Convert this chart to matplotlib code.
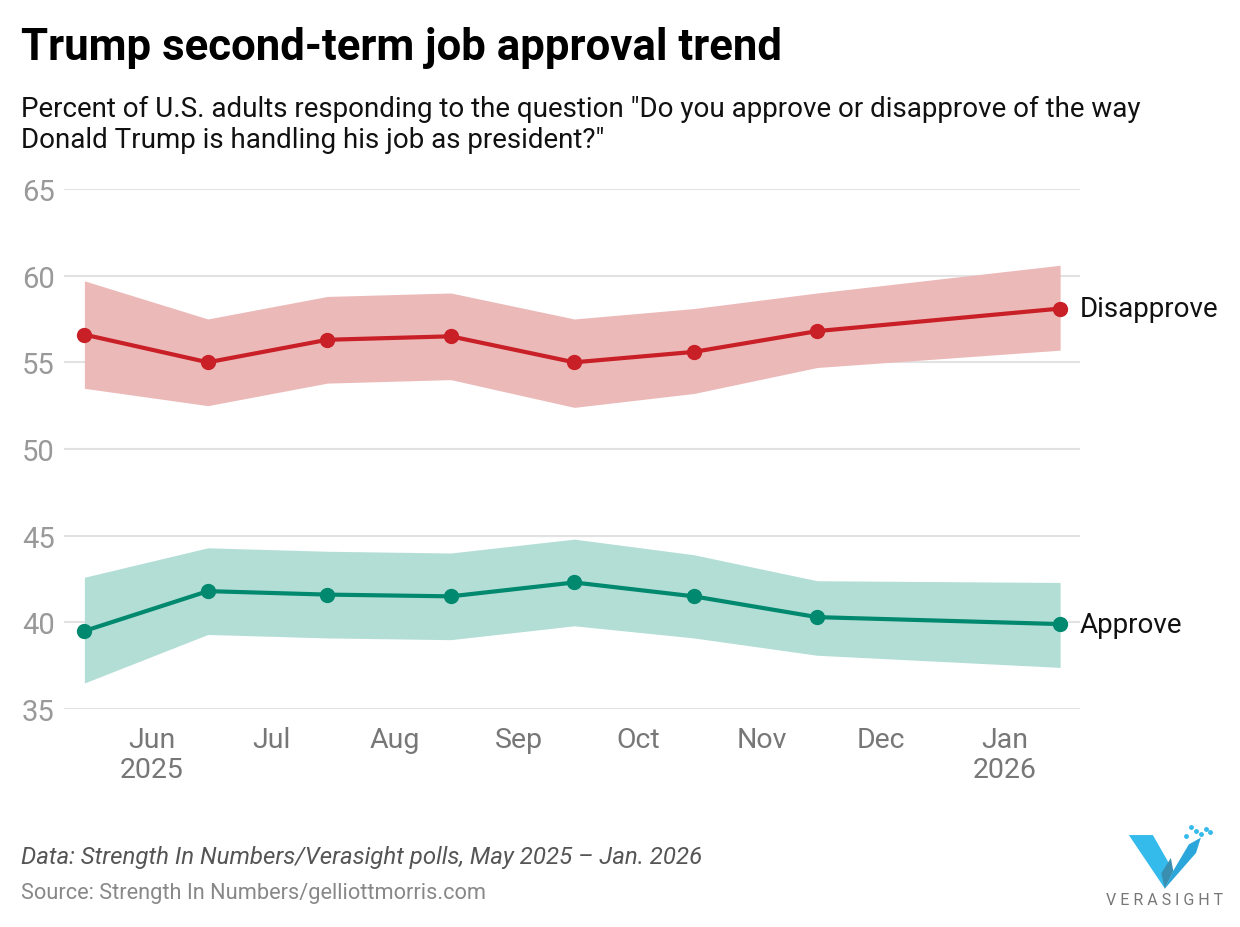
import numpy as np
import matplotlib.pyplot as plt
from matplotlib.patches import Polygon
import datetime as dt

plt.rcParams['font.family'] = ['Roboto', 'DejaVu Sans']

# poll dates (mid-month fieldwork)
dates = ["2025-05-15", "2025-06-15", "2025-07-15", "2025-08-15",
         "2025-09-15", "2025-10-15", "2025-11-15", "2026-01-15"]
disapprove = [56.6, 55.0, 56.3, 56.5, 55.0, 55.6, 56.8, 58.1]
dis_hi = [59.7, 57.5, 58.8, 59.0, 57.5, 58.1, 59.0, 60.6]
dis_lo = [53.5, 52.5, 53.8, 54.0, 52.4, 53.2, 54.7, 55.7]
approve = [39.5, 41.8, 41.6, 41.5, 42.3, 41.5, 40.3, 39.9]
app_hi = [42.6, 44.3, 44.1, 44.0, 44.8, 43.9, 42.4, 42.3]
app_lo = [36.5, 39.3, 39.1, 39.0, 39.8, 39.1, 38.1, 37.4]

month_ticks = ["2025-06-01", "2025-07-01", "2025-08-01", "2025-09-01",
               "2025-10-01", "2025-11-01", "2025-12-01", "2026-01-01"]
month_labels = ["Jun\n2025", "Jul", "Aug", "Sep", "Oct", "Nov", "Dec", "Jan\n2026"]

x = [dt.datetime.strptime(d, "%Y-%m-%d") for d in dates]
xt = [dt.datetime.strptime(d, "%Y-%m-%d") for d in month_ticks]

red = "#c91f26"
red_band = "#ecb9b9"
green = "#00896f"
green_band = "#b3ded6"
grey = "#999999"

fig = plt.figure(figsize=(12.4, 9.28), dpi=100)
ax = fig.add_axes([0.052, 0.2349, 0.819, 0.5604])

ax.fill_between(x, dis_lo, dis_hi, color=red_band, lw=0, zorder=1)
ax.fill_between(x, app_lo, app_hi, color=green_band, lw=0, zorder=1)
ax.plot(x, disapprove, color=red, lw=3, marker='o', ms=10, zorder=3)
ax.plot(x, approve, color=green, lw=3, marker='o', ms=10, zorder=3)

ax.text(x[-1] + dt.timedelta(days=5), disapprove[-1], "Disapprove", fontsize=20,
        va='center', ha='left', color='#111111')
ax.text(x[-1] + dt.timedelta(days=5), approve[-1], "Approve", fontsize=20,
        va='center', ha='left', color='#111111')

ax.set_ylim(35, 65)
ax.set_yticks(np.arange(35, 66, 5))
ax.set_xlim(dt.datetime(2025, 5, 10), dt.datetime(2026, 1, 20))
ax.set_xticks(xt)
ax.set_xticklabels(month_labels)
ax.grid(axis='y', color='#e2e2e2', lw=1.5, zorder=0)
ax.set_axisbelow(True)
for s in ax.spines.values():
    s.set_visible(False)
ax.tick_params(axis='y', length=0, labelsize=21, labelcolor=grey, pad=7)
ax.tick_params(axis='x', length=0, labelsize=20.5, labelcolor='#777777', pad=12)
for t in ax.get_xticklabels():
    t.set_linespacing(1.15)

fig.text(0.017, 0.948, "Trump second-term job approval trend", fontsize=31.5,
         fontweight='bold', va='center', ha='left', color='black')
fig.text(0.017, 0.865, 'Percent of U.S. adults responding to the question "Do you approve or disapprove of the way\n'
         'Donald Trump is handling his job as president?"', fontsize=20, va='center', ha='left',
         color='#111111', linespacing=1.2)
fig.text(0.017, 0.076, "Data: Strength In Numbers/Verasight polls, May 2025 \u2013 Jan. 2026",
         fontsize=17.3, style='italic', color='#555555', va='center', ha='left')
fig.text(0.017, 0.037, "Source: Strength In Numbers/gelliottmorris.com",
         fontsize=15.7, color='#888888', va='center', ha='left')

# Verasight logo
lx = fig.add_axes([0.891, 0.0194, 0.0968, 0.0916])
lx.set_xlim(0, 100)
lx.set_ylim(0, 100)
lx.axis('off')
lx.add_patch(Polygon([[20, 87], [40, 87], [57, 45], [50, 24]], closed=True, color='#35baec', lw=0))
lx.add_patch(Polygon([[50, 24], [57, 45], [70, 76], [80, 84], [76, 66]], closed=True, color='#2aa6db', lw=0))
lx.add_patch(Polygon([[50, 24], [57, 45], [55, 60], [47, 42]], closed=True, color='#3a8fb0', lw=0))
for px, py in [(72, 96), (76, 92), (80, 88), (84, 94), (88, 90), (68, 86)]:
    lx.plot(px, py, 'o', color='#35baec', ms=2.5)
lx.text(50, 11, "V E R A S I G H T", fontsize=11.5, color='#777777', ha='center', va='center')

plt.savefig("out.png", dpi=100)
